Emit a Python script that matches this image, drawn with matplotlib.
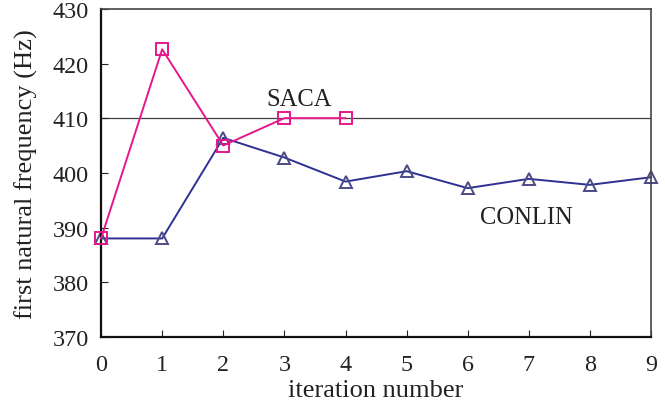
import matplotlib
matplotlib.use("Agg")
import matplotlib.pyplot as plt

iterations = list(range(10))
saca_iter = [0, 1, 2, 3, 4]
saca_freq = [388.0, 422.6, 405.0, 410.0, 410.0]
conlin_freq = [388.0, 388.0, 406.4, 402.8, 398.4, 400.3, 397.2, 398.9, 397.8, 399.2]
target_freq = 410.0

plt.rcParams["font.family"] = ["Liberation Serif", "DejaVu Serif"]

fig = plt.figure(figsize=(6.65, 4.10), dpi=100)
ax = fig.add_axes([0.152, 0.176, 0.827, 0.8])

ax.axhline(target_freq, color="#404040", lw=0.9, zorder=1)
ax.plot(iterations, conlin_freq, color="#2E3192", lw=1.4, marker="^", ms=8,
        mfc="none", mec="#4B4A85", mew=1.4, zorder=2, clip_on=False)
ax.plot(saca_iter, saca_freq, color="#E6178A", lw=1.4, marker="s", ms=8,
        mfc="none", mec="#E6178A", mew=1.4, zorder=3, clip_on=False)

ax.text(3.24, 413.5, "SACA", fontsize=17.7, ha="center", va="center", color="#222222")
ax.text(6.96, 391.9, "CONLIN", fontsize=17.7, ha="center", va="center", color="#222222")

ax.set_xlim(0, 9)
ax.set_ylim(370, 430)
ax.set_xticks(iterations)
ax.set_yticks(range(370, 431, 10))
ax.tick_params(direction="in", length=5, width=0.8, labelsize=17.4, colors="#222222")
ax.tick_params(axis="x", pad=12)
ax.tick_params(axis="y", pad=9)
ax.set_xlabel("iteration number", fontsize=19, color="#222222", labelpad=3)
ax.set_ylabel("first natural frequency (Hz)", fontsize=19, color="#222222", labelpad=10)

for side in ("left", "bottom"):
    ax.spines[side].set_linewidth(1.6)
    ax.spines[side].set_color("#111111")
for side in ("top", "right"):
    ax.spines[side].set_linewidth(1.2)
    ax.spines[side].set_color("#444444")

fig.savefig("out.png", dpi=100)
